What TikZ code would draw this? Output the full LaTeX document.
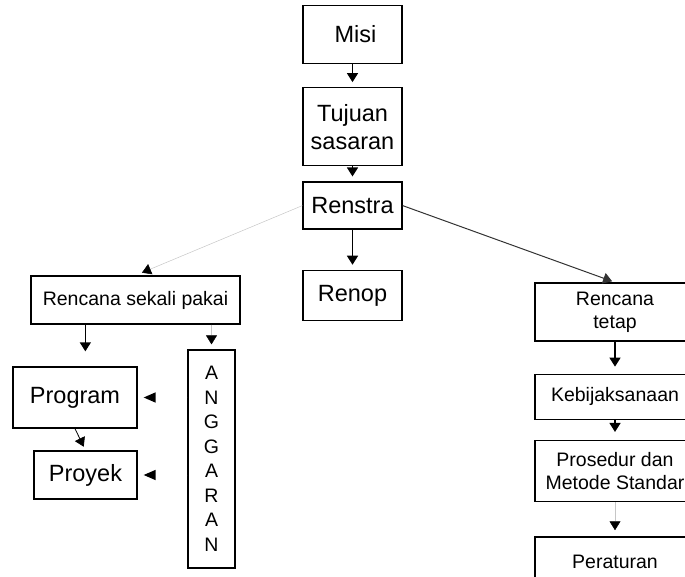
\documentclass[tikz,border=0pt]{standalone}
\usepackage{fontspec}
\setmainfont{Liberation Sans}
\usetikzlibrary{arrows.meta,positioning}

\begin{document}
\begin{tikzpicture}[
    x=1pt, y=1pt,
    node distance=20pt,
    bigbox/.style={rectangle, draw, line width=1.3pt, inner sep=2pt, align=center, minimum width=99pt, font=\fontsize{23.5}{28}\selectfont},
    smallbox/.style={rectangle, draw, line width=1.3pt, inner sep=2pt, align=center, minimum width=160pt, font=\fontsize{19.5}{23}\selectfont},
    arrow/.style={line width=1.4pt, -{Triangle[length=9pt,width=11pt]}, shorten >=5pt},
    faint/.style={arrow, line width=0.5pt, draw=gray!45, -{Triangle[length=9pt,width=11pt,color=black]}},
    tiponly/.style={arrow, draw=white, -{Triangle[length=12pt,width=10pt,color=black]}, shorten >=6pt}
]
\useasboundingbox (0,0) rectangle (685,-577);
\clip (0,0) rectangle (685,-577);

% --- CENTRE COLUMN ---
\node (misi)    [bigbox, minimum height=58pt] at (352.5,-34.5) {\hspace{6pt}Misi};
\node (tujuan)  [bigbox, minimum height=78pt, below=23pt of misi] {Tujuan\\sasaran};
\node (renstra) [bigbox, minimum height=47pt, below=15pt of tujuan] {Renstra};
\node (renop)   [bigbox, minimum height=50pt, below=40pt of renstra] {Renop};

% --- LEFT BRANCH ---
\node (sekali)   [smallbox, minimum width=209pt, minimum height=48pt] at (135.5,-300) {Rencana sekali pakai};
\node (program)  [bigbox, minimum width=124pt, minimum height=61pt] at (75,-397.5) {Program};
\node (proyek)   [bigbox, minimum width=103pt, minimum height=48pt] at (85.5,-475) {Proyek};
\node (anggaran) [smallbox, minimum width=47pt, minimum height=218pt, font=\fontsize{19.5}{24.5}\selectfont] at (211.5,-459)
    {A\\N\\G\\G\\A\\R\\A\\N};

% --- RIGHT BRANCH ---
\node (tetap)     [smallbox, minimum height=58pt] at (615,-312) {Rencana\\tetap};
\node (kebijakan) [smallbox, minimum height=45pt, below=32pt of tetap] {Kebijaksanaan};
\node (prosedur)  [smallbox, minimum height=61pt, below=20pt of kebijakan] {Prosedur dan\\Metode Standar};
\node (peraturan) [smallbox, minimum height=50pt, below=34pt of prosedur] {Peraturan};

% --- PATHS ---
\draw [arrow] (misi) -- (tujuan);
\draw [arrow] (tujuan) -- (renstra);
\draw [arrow] (renstra) -- (renop);
\draw [faint, shorten >=7pt] (renstra.west) -- (sekali.north);
\draw [arrow, line width=1pt, draw=black!80, shorten >=3pt] (renstra.east) -- (tetap.north);

% left side
\draw [arrow, shorten >=15pt] ([xshift=55pt]sekali.south west) -- ([xshift=55pt]sekali.south west |- program.north);
\draw [faint] (sekali.south -| anggaran.north) -- (anggaran.north);
\draw [arrow, line width=0.8pt, shorten >=4pt] (program.south) -- (proyek.north);
\draw [tiponly] (anggaran.west |- program.east) -- (program.east);
\draw [tiponly] (anggaran.west |- proyek.east) -- (proyek.east);

% right side
\draw [arrow, shorten >=7pt] (tetap) -- (kebijakan);
\draw [arrow, shorten >=8pt] (kebijakan) -- (prosedur);
\draw [faint, shorten >=6pt] (prosedur) -- (peraturan);

\end{tikzpicture}
\end{document}
